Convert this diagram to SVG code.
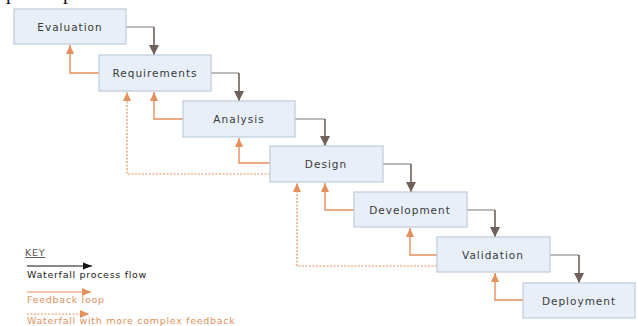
<svg xmlns="http://www.w3.org/2000/svg" width="638" height="326" viewBox="0 0 638 326">
<style>
.box{fill:#e8eff8;stroke:#bfcbdc;stroke-width:1.2}
.lbl{font-family:"DejaVu Sans",Verdana,sans-serif;font-size:10.5px;letter-spacing:1px;fill:#3a3a3a;text-anchor:middle;dominant-baseline:central}
.wh{fill:none;stroke:#a39c99;stroke-width:1.4}
.wv{fill:none;stroke:#6f6059;stroke-width:1.6;marker-end:url(#ah)}
.fb{fill:none;stroke:#e4905c;stroke-width:1.4;marker-end:url(#oh)}
.fd{fill:none;stroke:#e4905c;stroke-width:1.2;stroke-dasharray:2 1.5;marker-end:url(#oh)}
.key{font-family:"DejaVu Sans",Verdana,sans-serif;font-size:9.5px;letter-spacing:0.7px}
</style>
<defs>
<marker id="ah" markerUnits="userSpaceOnUse" markerWidth="11" markerHeight="11" refX="10" refY="5.5" orient="auto"><path d="M0,0.5 L10,5.5 L0,10.5 Z" fill="#6f6059"/></marker>
<marker id="oh" markerUnits="userSpaceOnUse" markerWidth="10" markerHeight="10" refX="9" refY="5" orient="auto"><path d="M0,1 L9,5 L0,9 Z" fill="#e4905c"/></marker>
<marker id="kh" markerUnits="userSpaceOnUse" markerWidth="10" markerHeight="10" refX="9" refY="5" orient="auto"><path d="M0,1.5 L9,5 L0,8.5 Z" fill="#111"/></marker>
</defs>
<rect width="638" height="326" fill="#fff"/>
<text x="6" y="-1" font-family="Liberation Serif,serif" font-size="20" fill="#111">p</text>
<text x="63" y="-1" font-family="Liberation Serif,serif" font-size="20" fill="#111">p</text>

<g id="connectors">
<path class="wh" d="M126,27 H154"/><path class="wv" d="M154,27 V55"/>
<path class="wh" d="M211,73 H239"/><path class="wv" d="M239,73 V101"/>
<path class="wh" d="M295,119 H325"/><path class="wv" d="M325,119 V146"/>
<path class="wh" d="M383,164 H411"/><path class="wv" d="M411,164 V192"/>
<path class="wh" d="M467,210 H495"/><path class="wv" d="M495,210 V237"/>
<path class="wh" d="M550,255 H579"/><path class="wv" d="M579,255 V283"/>

<path class="fb" d="M99,73 H70 V45"/>
<path class="fb" d="M183,119 H154 V92"/>
<path class="fb" d="M270,163 H239 V138"/>
<path class="fb" d="M354,210 H325 V183"/>
<path class="fb" d="M437,255 H410 V228"/>
<path class="fb" d="M523,300 H495 V273"/>

<path class="fd" d="M270,174 H127 V92"/>
<path class="fd" d="M437,266 H297 V183"/>
</g>

<g id="evaluation"><rect class="box" x="14" y="9" width="112" height="35"/><text class="lbl" x="70" y="26.5">Evaluation</text></g>
<g id="requirements"><rect class="box" x="99" y="55" width="112" height="36"/><text class="lbl" x="155" y="73">Requirements</text></g>
<g id="analysis"><rect class="box" x="183" y="101" width="112" height="36"/><text class="lbl" x="239" y="119">Analysis</text></g>
<g id="design"><rect class="box" x="270" y="146" width="113" height="36"/><text class="lbl" x="326" y="164">Design</text></g>
<g id="development"><rect class="box" x="354" y="192" width="113" height="35"/><text class="lbl" x="410" y="209.5">Development</text></g>
<g id="validation"><rect class="box" x="437" y="237" width="113" height="35"/><text class="lbl" x="493" y="254.5">Validation</text></g>
<g id="deployment"><rect class="box" x="523" y="283" width="112" height="35"/><text class="lbl" x="579" y="300.5">Deployment</text></g>

<g id="key">
<text class="key" x="25" y="256" fill="#555" text-decoration="underline">KEY</text>
<path d="M27,266 H92" stroke="#111" stroke-width="1" fill="none" marker-end="url(#kh)"/>
<text class="key" x="27" y="278" fill="#222">Waterfall process flow</text>
<path d="M27,292 H91" stroke="#e4905c" stroke-width="1" fill="none" marker-end="url(#oh)"/>
<text class="key" x="27" y="303" fill="#e4905c">Feedback loop</text>
<path d="M27,314 H89" stroke="#e4905c" stroke-width="1" stroke-dasharray="2 1.5" fill="none" marker-end="url(#oh)"/>
<text class="key" x="27" y="324" fill="#e4905c">Waterfall with more complex feedback</text>
</g>
</svg>
